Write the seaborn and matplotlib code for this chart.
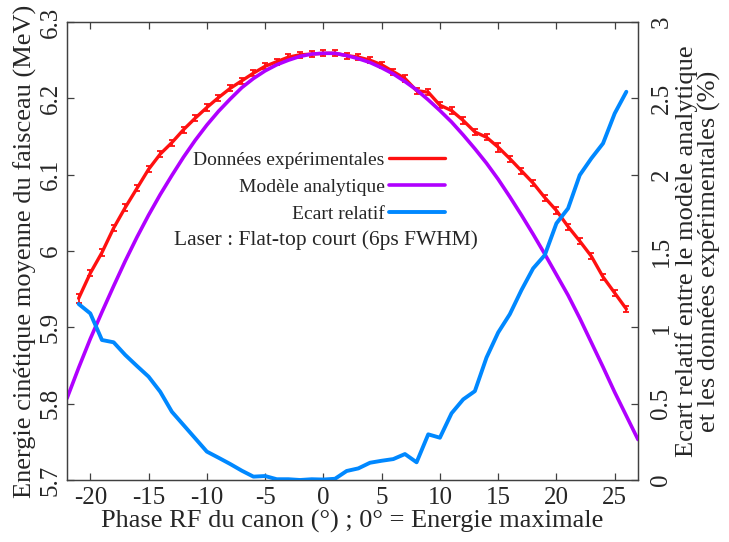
import matplotlib
matplotlib.use("Agg")
import matplotlib.pyplot as plt
import seaborn as sns
import pandas as pd
from matplotlib.ticker import FuncFormatter

# ---- data ----
phase_exp = list(range(-21, 27))
energy_exp = [5.938, 5.971, 5.998, 6.030, 6.057, 6.082, 6.107, 6.127, 6.142, 6.159,
              6.174, 6.188, 6.201, 6.213, 6.223, 6.233, 6.242, 6.248, 6.254, 6.257,
              6.258, 6.259, 6.259, 6.256, 6.254, 6.250, 6.244, 6.235, 6.226, 6.210,
              6.208, 6.191, 6.184, 6.171, 6.156, 6.149, 6.136, 6.121, 6.105, 6.089,
              6.070, 6.053, 6.032, 6.013, 5.993, 5.966, 5.945, 5.924]
energy_err = [0.006, 0.004, 0.004, 0.004, 0.004, 0.004, 0.004, 0.004, 0.004, 0.004,
              0.004, 0.004, 0.004, 0.004, 0.004, 0.004, 0.004, 0.004, 0.004, 0.004,
              0.004, 0.004, 0.004, 0.004, 0.004, 0.004, 0.004, 0.004, 0.004, 0.004,
              0.004, 0.004, 0.004, 0.004, 0.004, 0.004, 0.006, 0.004, 0.004, 0.004,
              0.004, 0.004, 0.004, 0.004, 0.004, 0.004, 0.004, 0.004]

phase_model = list(range(-22, 28))
energy_model = [5.807, 5.847, 5.885, 5.920, 5.954, 5.987, 6.018, 6.047, 6.074, 6.099,
                6.123, 6.145, 6.165, 6.183, 6.199, 6.214, 6.226, 6.236, 6.244, 6.250,
                6.255, 6.258, 6.259, 6.259, 6.256, 6.252, 6.247, 6.240, 6.232, 6.222,
                6.211, 6.198, 6.184, 6.169, 6.152, 6.134, 6.115, 6.094, 6.071, 6.047,
                6.022, 5.996, 5.969, 5.942, 5.912, 5.880, 5.848, 5.815, 5.784, 5.753]

phase_ecart = list(range(-21, 27))
ecart = [1.153, 1.091, 0.917, 0.902, 0.819, 0.747, 0.677, 0.578, 0.447, 0.360,
         0.273, 0.186, 0.146, 0.105, 0.061, 0.022, 0.026, 0.005, 0.005, 0.000,
         0.005, 0.003, 0.008, 0.059, 0.076, 0.113, 0.126, 0.137, 0.170, 0.116,
         0.299, 0.277, 0.437, 0.528, 0.582, 0.802, 0.966, 1.086, 1.244, 1.386,
         1.473, 1.681, 1.779, 1.997, 2.107, 2.205, 2.401, 2.543]

x_ticks = [-20, -15, -10, -5, 0, 5, 10, 15, 20, 25]
y_ticks = [5.7, 5.8, 5.9, 6.0, 6.1, 6.2, 6.3]
y2_ticks = [0, 0.5, 1, 1.5, 2, 2.5, 3]

labels = ["Données expérimentales", "Modèle analytique", "Ecart relatif"]
note = "Laser : Flat-top court (6ps FWHM)"
xlabel = "Phase RF du canon (°) ; 0° = Energie maximale"
ylabel = "Energie cinétique moyenne du faisceau (MeV)"
y2label = "Ecart relatif entre le modèle analytique\net les données expérimentales (%)"

RED = "#ff1010"
PURPLE = "#b000ff"
BLUE = "#0088ff"

sns.set_style("ticks")
plt.rcParams["font.family"] = ["Liberation Serif", "DejaVu Serif"]
plt.rcParams["axes.unicode_minus"] = False

df_exp = pd.DataFrame({"x": phase_exp, "y": energy_exp})
df_mod = pd.DataFrame({"x": phase_model, "y": energy_model})
df_ec = pd.DataFrame({"x": phase_ecart, "y": ecart})

fig = plt.figure(figsize=(7.29, 5.42), dpi=100)
ax = fig.add_axes([67 / 729, 62 / 542, 571 / 729, 458 / 542])
ax2 = ax.twinx()

sns.lineplot(data=df_exp, x="x", y="y", ax=ax, color=RED, lw=2.4, label=labels[0], zorder=3)
ax.errorbar(phase_exp, energy_exp, yerr=energy_err, fmt="none", ecolor=RED,
            elinewidth=1.3, capsize=2.5, capthick=1.3, zorder=3)
sns.lineplot(data=df_mod, x="x", y="y", ax=ax, color=PURPLE, lw=2.6, label=labels[1], zorder=4)
sns.lineplot(data=df_ec, x="x", y="y", ax=ax2, color=BLUE, lw=2.8, label=labels[2])

ax.set_xlim(-22, 27)
ax.set_ylim(5.7, 6.3)
ax2.set_ylim(0, 3)
ax.set_xticks(x_ticks)
ax.set_yticks(y_ticks)
ax2.set_yticks(y2_ticks)
fmt = FuncFormatter(lambda v, p: "%g" % round(v, 3))
ax.xaxis.set_major_formatter(fmt)
ax.yaxis.set_major_formatter(fmt)
ax2.yaxis.set_major_formatter(fmt)

tick_fs = 18
ax.tick_params(axis="x", direction="in", length=5, width=0.9, labelsize=tick_fs, pad=5,
               top=True, color="#404040")
ax.tick_params(axis="y", direction="in", length=5, width=0.9, labelsize=tick_fs, pad=4,
               color="#404040")
ax2.tick_params(axis="y", direction="in", length=5, width=0.9, labelsize=tick_fs, pad=9,
                color="#404040")
for t in ax.get_yticklabels():
    t.set_rotation(90)
    t.set_va("center")
for t in ax2.get_yticklabels():
    t.set_rotation(90)
    t.set_va("center")

for a in (ax, ax2):
    for s in a.spines.values():
        s.set_color("#404040")
        s.set_linewidth(0.9)

ax.set_xlabel(xlabel, fontsize=19, labelpad=1)
ax.set_ylabel(ylabel, fontsize=19, labelpad=2)
ax2.set_ylabel(y2label, fontsize=19, labelpad=2, linespacing=1.0)

# legend
if ax.get_legend():
    ax.get_legend().remove()
if ax2.get_legend():
    ax2.get_legend().remove()
h1, l1 = ax.get_legend_handles_labels()
h2, l2 = ax2.get_legend_handles_labels()
leg = ax2.legend(h1 + h2, l1 + l2, loc="upper right", bbox_to_anchor=(0.662, 0.717),
                 frameon=False, markerfirst=False, fontsize=14, handlelength=2.9,
                 handletextpad=0.2, labelspacing=0.48, borderpad=0, borderaxespad=0)
ax2.text(0.4536, 0.524, note, transform=ax.transAxes, ha="center", va="center", fontsize=15.5)

fig.savefig("out.png", dpi=100)
